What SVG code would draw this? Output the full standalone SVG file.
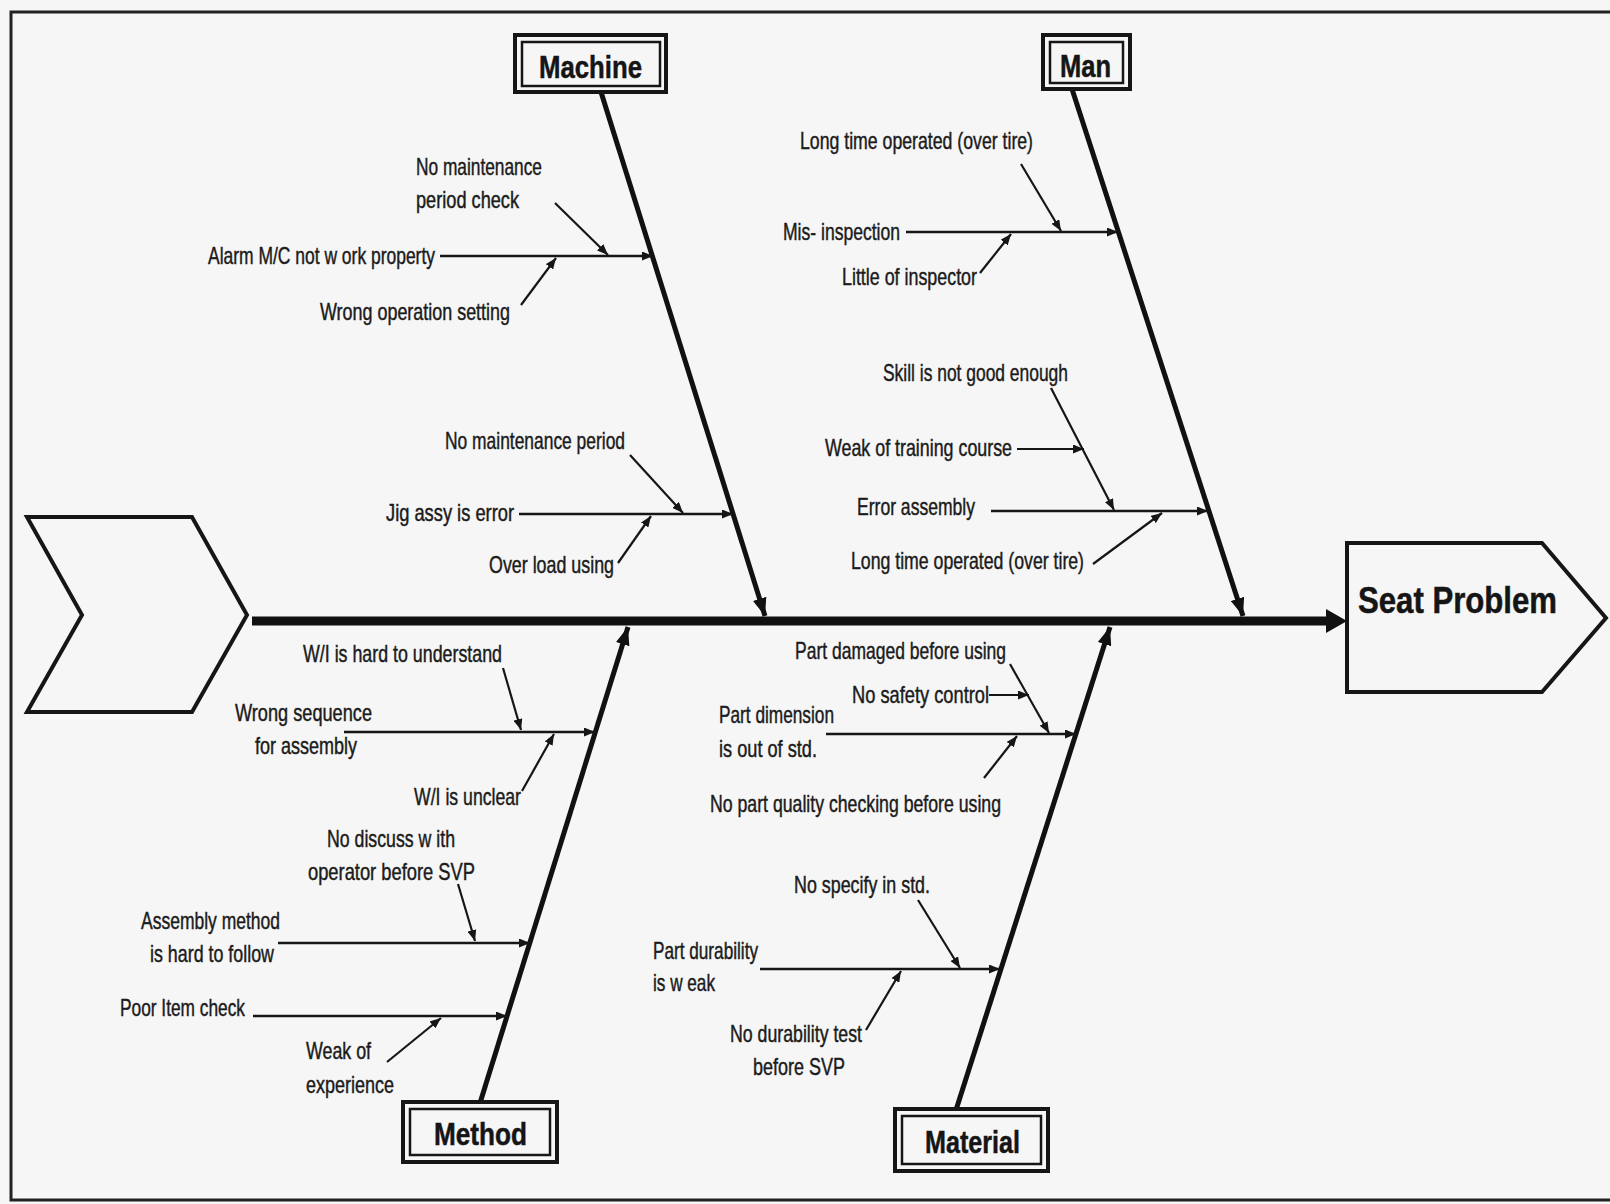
<svg xmlns="http://www.w3.org/2000/svg" width="1610" height="1204" viewBox="0 0 1610 1204">
  <style>
    .lbl{font-family:"Liberation Sans",Arial,sans-serif;font-size:24px;fill:#1b1b1b;stroke:#1b1b1b;stroke-width:0.45}
    .cat{font-family:"Liberation Sans",Arial,sans-serif;font-size:32px;font-weight:bold;fill:#151515;stroke:#151515;stroke-width:0.5}
    .head{font-family:"Liberation Sans",Arial,sans-serif;font-size:36px;font-weight:bold;fill:#151515;stroke:#151515;stroke-width:0.5}
    .frame{fill:none;stroke:#222;stroke-width:3}
    .box-out{fill:none;stroke:#161616;stroke-width:4}
    .box-in{fill:none;stroke:#161616;stroke-width:2.5}
    .shape{fill:none;stroke:#161616;stroke-width:4}
    .spine{stroke:#111;stroke-width:9;fill:none}
    .bone{stroke:#111;stroke-width:5;fill:none;marker-end:url(#big)}
    .branch{stroke:#161616;stroke-width:2.5;fill:none;marker-end:url(#small)}
    .sub{stroke:#161616;stroke-width:2.2;fill:none;marker-end:url(#small)}
  </style>
  <defs>
    <marker id="big" markerUnits="userSpaceOnUse" markerWidth="18" markerHeight="14" refX="18" refY="7" orient="auto">
      <path d="M0,0 L18,7 L0,14 z" fill="#111"/>
    </marker>
    <marker id="small" markerUnits="userSpaceOnUse" markerWidth="11" markerHeight="9" refX="11" refY="4.5" orient="auto">
      <path d="M0,0 L11,4.5 L0,9 z" fill="#161616"/>
    </marker>
  </defs>

  <rect x="0" y="0" width="1610" height="1204" fill="#f6f6f6"/>
  <!-- page frame -->
  <path class="frame" d="M1612,12 L11,12 L11,1200 L1612,1200"/>

  <!-- spine, bones, branches and cause arrows -->
  <g id="connectors">
    <line class="spine" x1="252" y1="621" x2="1330" y2="621"/>
    <polygon points="1326,609 1347,621 1326,633" fill="#111"/>

    <line class="bone" x1="601" y1="92" x2="765" y2="616"/>
    <line class="bone" x1="1072" y1="89" x2="1243" y2="616"/>
    <line class="bone" x1="480" y1="1103" x2="628" y2="627"/>
    <line class="bone" x1="956" y1="1110" x2="1110" y2="627"/>

    <!-- Machine -->
    <line class="branch" x1="440" y1="256" x2="653" y2="256"/>
    <line class="sub" x1="555" y1="203" x2="608" y2="255"/>
    <line class="sub" x1="521" y1="305" x2="556" y2="258"/>
    <line class="branch" x1="519" y1="514" x2="733" y2="514"/>
    <line class="sub" x1="630" y1="455" x2="683" y2="513"/>
    <line class="sub" x1="618" y1="563" x2="651" y2="516"/>

    <!-- Man -->
    <line class="branch" x1="906" y1="232" x2="1118" y2="232"/>
    <line class="sub" x1="1021" y1="164" x2="1061" y2="231"/>
    <line class="sub" x1="980" y1="273" x2="1011" y2="234"/>
    <line class="branch" x1="991" y1="511" x2="1208" y2="511"/>
    <line class="sub" x1="1051" y1="388" x2="1114" y2="510"/>
    <line class="sub" x1="1017" y1="449" x2="1084" y2="449"/>
    <line class="sub" x1="1093" y1="564" x2="1162" y2="513"/>

    <!-- Method -->
    <line class="branch" x1="344" y1="732" x2="595" y2="732"/>
    <line class="sub" x1="503" y1="668" x2="521" y2="730"/>
    <line class="sub" x1="522" y1="791" x2="554" y2="734"/>
    <line class="branch" x1="278" y1="943" x2="530" y2="943"/>
    <line class="sub" x1="458" y1="884" x2="475" y2="941"/>
    <line class="branch" x1="253" y1="1016" x2="507" y2="1016"/>
    <line class="sub" x1="387" y1="1062" x2="441" y2="1018"/>

    <!-- Material -->
    <line class="branch" x1="826" y1="734" x2="1076" y2="734"/>
    <line class="sub" x1="1010" y1="664" x2="1049" y2="733"/>
    <line class="sub" x1="989" y1="695" x2="1029" y2="695"/>
    <line class="sub" x1="984" y1="778" x2="1017" y2="736"/>
    <line class="branch" x1="760" y1="969" x2="1000" y2="969"/>
    <line class="sub" x1="918" y1="900" x2="960" y2="968"/>
    <line class="sub" x1="866" y1="1030" x2="901" y2="971"/>
  </g>

  <!-- tail chevron -->
  <g id="tail">
    <polygon class="shape" points="27,517 192,517 247,615 192,712 27,712 82,615"/>
  </g>

  <!-- effect head -->
  <g id="effect">
    <polygon class="shape" stroke-width="3.5" points="1347,543 1542,543 1606,618 1542,692 1347,692"/>
    <text class="head" x="1358" y="613" textLength="199" lengthAdjust="spacingAndGlyphs">Seat Problem</text>
  </g>

  <!-- categories -->
  <g id="cat-machine">
    <rect class="box-out" x="515" y="35" width="151" height="57"/>
    <rect class="box-in" x="522" y="42" width="138" height="44"/>
    <text class="cat" x="539" y="78" textLength="103" lengthAdjust="spacingAndGlyphs">Machine</text>
  </g>
  <g id="cat-man">
    <rect class="box-out" x="1043" y="35" width="87" height="54"/>
    <rect class="box-in" x="1050" y="42" width="73" height="41"/>
    <text class="cat" x="1060" y="77" textLength="51" lengthAdjust="spacingAndGlyphs">Man</text>
  </g>
  <g id="cat-method">
    <rect class="box-out" x="403" y="1102" width="154" height="60"/>
    <rect class="box-in" x="410" y="1109" width="140" height="46"/>
    <text class="cat" x="434" y="1145" textLength="93" lengthAdjust="spacingAndGlyphs">Method</text>
  </g>
  <g id="cat-material">
    <rect class="box-out" x="895" y="1109" width="153" height="62"/>
    <rect class="box-in" x="902" y="1116" width="139" height="48"/>
    <text class="cat" x="925" y="1153" textLength="95" lengthAdjust="spacingAndGlyphs">Material</text>
  </g>

  <!-- Machine causes -->
  <g id="cause-alarm"><text class="lbl" x="208" y="264" textLength="227" lengthAdjust="spacingAndGlyphs">Alarm M/C not w ork property</text></g>
  <g id="cause-no-maint-check">
    <text class="lbl" x="416" y="175" textLength="126" lengthAdjust="spacingAndGlyphs">No maintenance</text>
    <text class="lbl" x="416" y="208" textLength="103" lengthAdjust="spacingAndGlyphs">period check</text>
  </g>
  <g id="cause-wrong-setting"><text class="lbl" x="320" y="320" textLength="190" lengthAdjust="spacingAndGlyphs">Wrong operation setting</text></g>
  <g id="cause-jig"><text class="lbl" x="386" y="521" textLength="128" lengthAdjust="spacingAndGlyphs">Jig assy is error</text></g>
  <g id="cause-no-maint-period"><text class="lbl" x="445" y="449" textLength="180" lengthAdjust="spacingAndGlyphs">No maintenance period</text></g>
  <g id="cause-overload"><text class="lbl" x="489" y="573" textLength="125" lengthAdjust="spacingAndGlyphs">Over load using</text></g>

  <!-- Man causes -->
  <g id="cause-misinspection"><text class="lbl" x="783" y="240" textLength="117" lengthAdjust="spacingAndGlyphs">Mis- inspection</text></g>
  <g id="cause-long-time-1"><text class="lbl" x="800" y="149" textLength="233" lengthAdjust="spacingAndGlyphs">Long time operated (over tire)</text></g>
  <g id="cause-little-inspector"><text class="lbl" x="842" y="285" textLength="135" lengthAdjust="spacingAndGlyphs">Little of inspector</text></g>
  <g id="cause-error-assembly"><text class="lbl" x="857" y="515" textLength="118" lengthAdjust="spacingAndGlyphs">Error assembly</text></g>
  <g id="cause-skill"><text class="lbl" x="883" y="381" textLength="185" lengthAdjust="spacingAndGlyphs">Skill is not good enough</text></g>
  <g id="cause-training"><text class="lbl" x="825" y="456" textLength="187" lengthAdjust="spacingAndGlyphs">Weak of training course</text></g>
  <g id="cause-long-time-2"><text class="lbl" x="851" y="569" textLength="233" lengthAdjust="spacingAndGlyphs">Long time operated (over tire)</text></g>

  <!-- Method causes -->
  <g id="cause-wrong-sequence">
    <text class="lbl" x="235" y="721" textLength="137" lengthAdjust="spacingAndGlyphs">Wrong sequence</text>
    <text class="lbl" x="255" y="754" textLength="102" lengthAdjust="spacingAndGlyphs">for assembly</text>
  </g>
  <g id="cause-wi-hard"><text class="lbl" x="303" y="662" textLength="199" lengthAdjust="spacingAndGlyphs">W/I is hard to understand</text></g>
  <g id="cause-wi-unclear"><text class="lbl" x="414" y="805" textLength="107" lengthAdjust="spacingAndGlyphs">W/I is unclear</text></g>
  <g id="cause-assembly-method">
    <text class="lbl" x="141" y="929" textLength="139" lengthAdjust="spacingAndGlyphs">Assembly method</text>
    <text class="lbl" x="150" y="962" textLength="124" lengthAdjust="spacingAndGlyphs">is hard to follow</text>
  </g>
  <g id="cause-no-discuss">
    <text class="lbl" x="327" y="847" textLength="128" lengthAdjust="spacingAndGlyphs">No discuss w ith</text>
    <text class="lbl" x="308" y="880" textLength="167" lengthAdjust="spacingAndGlyphs">operator before SVP</text>
  </g>
  <g id="cause-poor-check"><text class="lbl" x="120" y="1016" textLength="125" lengthAdjust="spacingAndGlyphs">Poor Item check</text></g>
  <g id="cause-experience">
    <text class="lbl" x="306" y="1059" textLength="65" lengthAdjust="spacingAndGlyphs">Weak of</text>
    <text class="lbl" x="306" y="1093" textLength="88" lengthAdjust="spacingAndGlyphs">experience</text>
  </g>

  <!-- Material causes -->
  <g id="cause-part-dimension">
    <text class="lbl" x="719" y="723" textLength="115" lengthAdjust="spacingAndGlyphs">Part dimension</text>
    <text class="lbl" x="719" y="757" textLength="98" lengthAdjust="spacingAndGlyphs">is out of std.</text>
  </g>
  <g id="cause-part-damaged"><text class="lbl" x="795" y="659" textLength="211" lengthAdjust="spacingAndGlyphs">Part damaged before using</text></g>
  <g id="cause-no-safety"><text class="lbl" x="852" y="703" textLength="137" lengthAdjust="spacingAndGlyphs">No safety control</text></g>
  <g id="cause-no-quality-check"><text class="lbl" x="710" y="812" textLength="291" lengthAdjust="spacingAndGlyphs">No part quality checking before using</text></g>
  <g id="cause-part-durability">
    <text class="lbl" x="653" y="959" textLength="105" lengthAdjust="spacingAndGlyphs">Part durability</text>
    <text class="lbl" x="653" y="991" textLength="62" lengthAdjust="spacingAndGlyphs">is w eak</text>
  </g>
  <g id="cause-no-specify"><text class="lbl" x="794" y="893" textLength="136" lengthAdjust="spacingAndGlyphs">No specify in std.</text></g>
  <g id="cause-no-durability-test">
    <text class="lbl" x="730" y="1042" textLength="132" lengthAdjust="spacingAndGlyphs">No durability test</text>
    <text class="lbl" x="753" y="1075" textLength="92" lengthAdjust="spacingAndGlyphs">before SVP</text>
  </g>
</svg>
